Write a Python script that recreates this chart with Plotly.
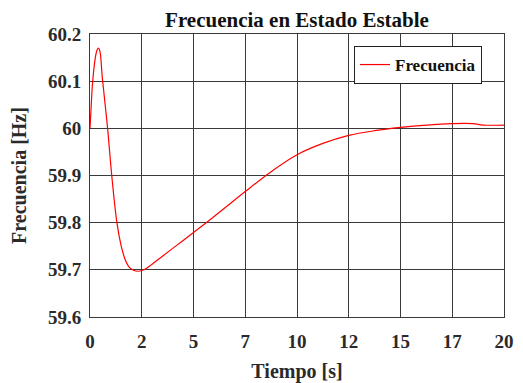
import plotly.graph_objects as go

tiempo = [0, 0.06, 0.12, 0.25, 0.35, 0.41, 0.48, 0.6, 0.85, 1.05, 1.3, 1.5, 1.68, 1.87, 2.1,
          2.35, 2.6, 3.0, 3.5, 4.25, 5.0, 6.25, 7.5, 8.75, 10.0, 11.25, 12.5, 13.75, 15.0,
          16.25, 17.5, 18.5, 19.0, 20.0]
frecuencia = [60.0, 60.05, 60.094, 60.148, 60.167, 60.17, 60.163, 60.105, 60.0, 59.9, 59.8,
              59.752, 59.724, 59.707, 59.699, 59.697, 59.700, 59.712, 59.729, 59.754, 59.779,
              59.822, 59.866, 59.908, 59.944, 59.968, 59.985, 59.995, 60.002, 60.007, 60.01,
              60.01, 60.007, 60.007]

x_tickvals = [0, 2.5, 5, 7.5, 10, 12.5, 15, 17.5, 20]
x_ticktext = ["0", "2", "5", "7", "10", "12", "15", "17", "20"]
y_tickvals = [59.6, 59.7, 59.8, 59.9, 60.0, 60.1, 60.2]
y_ticktext = ["59.6", "59.7", "59.8", "59.9", "60", "60.1", "60.2"]

FONT = "Liberation Serif"
W, H = 515, 375  # page body has an 8px margin

fig = go.Figure()
fig.add_trace(go.Scatter(x=tiempo, y=frecuencia, mode="lines", name="Frecuencia",
                         line=dict(color="#ff0000", width=1.2, shape="spline", smoothing=1.0)))

fig.update_layout(
    width=W, height=H,
    margin=dict(l=82, r=19, t=26, b=66, autoexpand=False),
    paper_bgcolor="white", plot_bgcolor="white",
    font=dict(family=FONT, size=19, color="#2a2a2a", weight="bold"),
    title=dict(text="Frecuencia en Estado Estable", x=(82 + 496) / 2 / W, xanchor="center",
               y=1 - 12 / H, yanchor="middle",
               font=dict(family=FONT, size=21, color="#111111", weight="bold")),
    showlegend=True,
    legend=dict(x=(474 - 82) / 414, xanchor="right", y=(309 - 38) / 283, yanchor="top",
                bordercolor="#222222", borderwidth=1, bgcolor="white",
                font=dict(family=FONT, size=17, color="#111111", weight="bold")),
    xaxis=dict(range=[0, 20], tickvals=x_tickvals, ticktext=x_ticktext,
               showgrid=True, gridcolor="#3a3a3a", gridwidth=1,
               showline=True, linecolor="#3a3a3a", linewidth=1, mirror=True,
               zeroline=False, ticks="", ticklen=0, automargin=False, ticklabelstandoff=7,
               title=dict(text="Tiempo [s]", standoff=20,
                          font=dict(family=FONT, size=20, color="#2a2a2a", weight="bold"))),
    yaxis=dict(range=[59.6, 60.2], tickvals=y_tickvals, ticktext=y_ticktext,
               showgrid=True, gridcolor="#3a3a3a", gridwidth=1,
               showline=True, linecolor="#3a3a3a", linewidth=1, mirror=True,
               zeroline=False, ticks="", ticklen=0, automargin=False, ticklabelstandoff=4,
               title=dict(text="Frecuencia [Hz]", standoff=16,
                          font=dict(family=FONT, size=20, color="#2a2a2a", weight="bold"))),
)

fig.write_html("out.html")
